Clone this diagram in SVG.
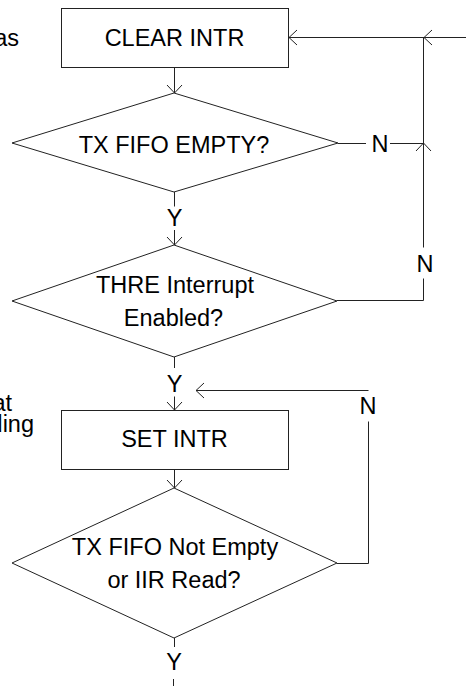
<svg xmlns="http://www.w3.org/2000/svg" width="466" height="686" viewBox="0 0 466 686">
  <style>
    .shape { fill: #ffffff; stroke: #222222; stroke-width: 1; }
    .conn { fill: none; stroke: #222222; stroke-width: 1; }
    .lbl { font-family: "Liberation Sans", Arial, sans-serif; font-size: 23.5px; fill: #000000; text-anchor: middle; }
    .side { font-family: "Liberation Sans", Arial, sans-serif; font-size: 23.5px; fill: #000000; text-anchor: end; }
  </style>
  <defs>
    <marker id="arr" markerUnits="userSpaceOnUse" markerWidth="20" markerHeight="20" refX="0" refY="0" orient="auto" overflow="visible">
      <path d="M-8,-7.5 L0,0 L-8,7.5" fill="none" stroke="#222222" stroke-width="1"/>
    </marker>
  </defs>
  <rect width="466" height="686" fill="#ffffff"/>

  <g id="side-notes">
    <text class="side" x="19" y="46">as</text>
    <text class="side" x="12" y="411">at</text>
    <text class="side" x="34" y="432">ding</text>
  </g>

  <g id="clear-intr">
    <rect class="shape" x="61.5" y="8.5" width="227" height="59"/>
    <text class="lbl" x="174.5" y="45.5">CLEAR INTR</text>
  </g>

  <g id="tx-fifo-empty">
    <polygon class="shape" points="12,143 174,93 338,143 174,192"/>
    <text class="lbl" x="174" y="152.5">TX FIFO EMPTY?</text>
  </g>

  <g id="thre-enabled">
    <polygon class="shape" points="12,301 174,245 337,301 174,357"/>
    <text class="lbl" x="175" y="293">THRE Interrupt</text>
    <text class="lbl" x="173.5" y="325.5">Enabled?</text>
  </g>

  <g id="set-intr">
    <rect class="shape" x="61.5" y="410.5" width="227" height="59"/>
    <text class="lbl" x="174.5" y="447">SET INTR</text>
  </g>

  <g id="tx-not-empty">
    <polygon class="shape" points="12,563 174,488 337,563 174,638"/>
    <text class="lbl" x="175" y="555">TX FIFO Not Empty</text>
    <text class="lbl" x="174" y="588">or IIR Read?</text>
  </g>

  <g id="connectors">
    <path class="conn" d="M174.5,67.5 L174.5,93" marker-end="url(#arr)"/>
    <path class="conn" d="M174.5,192 L174.5,206.5"/>
    <path class="conn" d="M174.5,230 L174.5,245" marker-end="url(#arr)"/>
    <path class="conn" d="M338,143.5 L366,143.5"/>
    <path class="conn" d="M390,143.5 L423.5,143.5"/>
    <path class="conn" d="M423.5,247.5 L423.5,143" marker-end="url(#arr)"/>
    <path class="conn" d="M423.5,143 L423.5,37"/>
    <path class="conn" d="M466,37.5 L424,37.5" marker-end="url(#arr)"/>
    <path class="conn" d="M424,37.5 L289,37.5" marker-end="url(#arr)"/>
    <path class="conn" d="M337,300.5 L423.5,300.5 L423.5,278.5"/>
    <path class="conn" d="M174.5,357 L174.5,368"/>
    <path class="conn" d="M174.5,396.5 L174.5,410" marker-end="url(#arr)"/>
    <path class="conn" d="M174.5,469.5 L174.5,488" marker-end="url(#arr)"/>
    <path class="conn" d="M337,563.5 L368.5,563.5 L368.5,421.5"/>
    <path class="conn" d="M368.5,390.5 L196,390.5" marker-end="url(#arr)"/>
    <path class="conn" d="M174.5,638 L174.5,647"/>
    <path class="conn" d="M173.5,679 L173.5,686"/>
    <text class="lbl" x="380" y="152">N</text>
    <text class="lbl" x="425" y="271.5">N</text>
    <text class="lbl" x="368" y="414">N</text>
    <text class="lbl" x="174.5" y="226">Y</text>
    <text class="lbl" x="174.5" y="391.5">Y</text>
    <text class="lbl" x="174" y="669.5">Y</text>
  </g>
</svg>
